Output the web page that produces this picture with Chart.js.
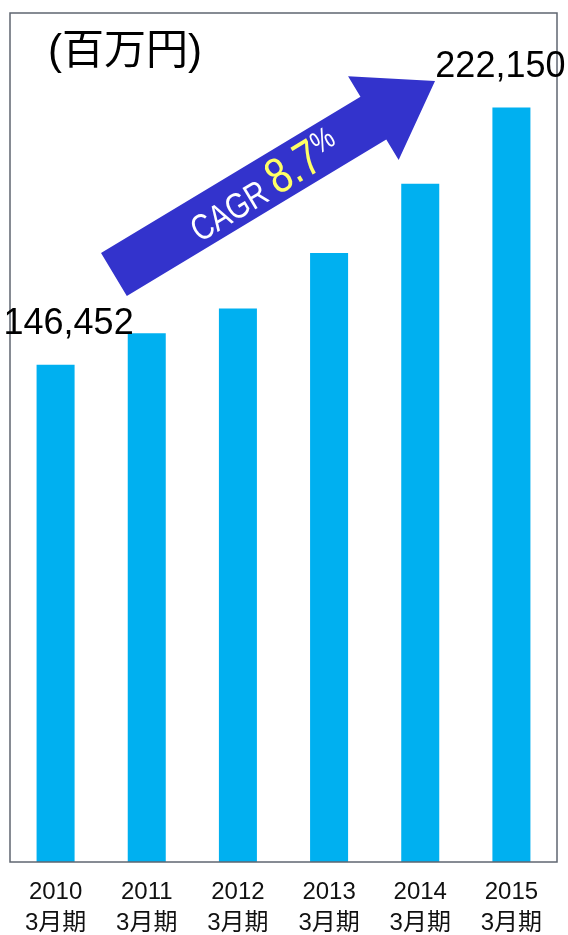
<!DOCTYPE html>
<html>
<head>
<meta charset="utf-8">
<script src="https://cdn.jsdelivr.net/npm/chart.js@4/dist/chart.umd.min.js"></script>
<style>
  html, body { margin: 0; padding: 0; background: #fff; }
  #wrap { width: 568px; height: 935px; position: relative; }
</style>
</head>
<body>
<div id="wrap"><canvas id="chart"></canvas></div>
<script>
// データ（売上高、百万円）
const years = ['2010', '2011', '2012', '2013', '2014', '2015'];
const periodSuffix = '3月期';
const sales = [146452, 155700, 163000, 179300, 199700, 222150];
const labeledBars = [0, 5];
const unitLabel = '(百万円)';
const cagrLabel = 'CAGR';
const cagrValue = '8.7';

const FONT = '"Liberation Sans", Arial, "Noto Sans CJK JP", sans-serif';

// 枠線、単位、値ラベル、CAGR矢印
const decorations = {
  id: 'decorations',
  afterDatasetsDraw(chart) {
    const { ctx, chartArea: a, scales: { x, y } } = chart;
    ctx.save();

    // 枠
    ctx.strokeStyle = '#5f6670';
    ctx.lineWidth = 1.5;
    ctx.strokeRect(a.left, a.top, a.right - a.left, a.bottom - a.top);

    // 単位
    ctx.fillStyle = '#000';
    ctx.font = '42px ' + FONT;
    ctx.textAlign = 'left';
    ctx.textBaseline = 'middle';
    ctx.fillText(unitLabel, a.left + 38, a.top + 39);

    // 値ラベル（最初と最後だけ）
    const meta = chart.getDatasetMeta(0);
    const shifts = { 0: 13, 5: -11 };
    ctx.font = '36px ' + FONT;
    ctx.textAlign = 'center';
    ctx.textBaseline = 'alphabetic';
    labeledBars.forEach(i => {
      const bar = meta.data[i];
      ctx.fillText(sales[i].toLocaleString('en-US'), bar.x + shifts[i], bar.y - 31);
    });

    // 矢印
    const tx = x.left + (x.right - x.left) * 0.19, ty = y.getPixelForValue(173000);
    const hx = x.left + (x.right - x.left) * 0.777, hy = y.getPixelForValue(230000);
    const ang = Math.atan2(hy - ty, hx - tx);
    const len = Math.hypot(hx - tx, hy - ty);
    const shaft = 25, head = 49, headLen = 72;
    ctx.translate(tx, ty);
    ctx.rotate(ang);
    ctx.fillStyle = '#3333cc';
    ctx.beginPath();
    ctx.moveTo(0, -shaft);
    ctx.lineTo(len - headLen, -shaft);
    ctx.lineTo(len - headLen, -head);
    ctx.lineTo(len, 0);
    ctx.lineTo(len - headLen, head);
    ctx.lineTo(len - headLen, shaft);
    ctx.lineTo(0, shaft);
    ctx.closePath();
    ctx.fill();

    // CAGR テキスト
    ctx.translate(len * 0.465, 0);
    ctx.scale(0.8, 1);
    ctx.textAlign = 'left';
    ctx.textBaseline = 'alphabetic';
    ctx.font = '36px ' + FONT;
    const w1 = ctx.measureText(cagrLabel + ' ').width;
    ctx.font = '50px ' + FONT;
    const w2 = ctx.measureText(cagrValue).width;
    ctx.font = '31px ' + FONT;
    const w3 = ctx.measureText('%').width;
    let cx = -(w1 + w2 + w3) / 2;
    const base = 17;
    ctx.fillStyle = '#ffffff';
    ctx.font = '36px ' + FONT;
    ctx.fillText(cagrLabel + ' ', cx, base);
    cx += w1;
    ctx.fillStyle = '#ffff66';
    ctx.font = '50px ' + FONT;
    ctx.fillText(cagrValue, cx, base);
    cx += w2;
    ctx.fillStyle = '#ffffff';
    ctx.font = '31px ' + FONT;
    ctx.fillText('%', cx, base - 14);

    ctx.restore();
  }
};

new Chart(document.getElementById('chart'), {
  type: 'bar',
  data: {
    labels: years.map(yr => [yr, periodSuffix]),
    datasets: [{
      data: sales,
      backgroundColor: '#00b0f0',
      borderWidth: 0,
      barPercentage: 0.417,
      categoryPercentage: 1
    }]
  },
  options: {
    responsive: true,
    maintainAspectRatio: false,
    animation: false,
    layout: { padding: { left: 10, right: 11, top: 13, bottom: 0 } },
    plugins: {
      legend: { display: false },
      tooltip: { enabled: false }
    },
    scales: {
      x: {
        grid: { display: false, drawTicks: false },
        border: { display: false },
        ticks: {
          color: '#111',
          padding: 15,
          maxRotation: 0,
          autoSkip: false,
          font: { family: FONT, size: 24, lineHeight: 1.28 }
        },
        afterFit(scale) { scale.height = 73; }
      },
      y: {
        display: false,
        min: 0,
        max: 250000
      }
    }
  },
  plugins: [decorations]
});
</script>
</body>
</html>
